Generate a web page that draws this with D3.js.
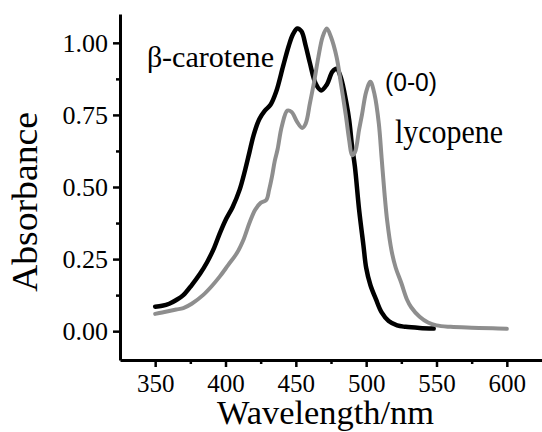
<!DOCTYPE html>
<html>
<head>
<meta charset="utf-8">
<script src="https://cdn.jsdelivr.net/npm/d3@7"></script>
<style>
  body { margin: 0; background: #fff; }
  svg { display: block; }
  .axis path, .axis line { stroke: #000; }
  .axis text { font-family: "Liberation Serif", "Times New Roman", serif; fill: #000; }
  .serif { font-family: "Liberation Serif", "Times New Roman", serif; }
</style>
</head>
<body>
<svg id="chart" width="542" height="432"></svg>
<script>
// beta-carotene absorption spectrum (wavelength nm, absorbance)
var caroteneWl = [350, 355, 360, 365, 370, 376, 382, 387, 392, 396, 400, 405, 410, 414, 417, 420, 424, 428, 432, 436, 441, 445, 448, 451, 454, 457, 460, 464, 468, 472, 476, 479, 482, 486, 488, 490, 492, 495, 498, 500, 503, 507, 511, 516, 522, 528, 538, 548]
var caroteneAbs = [0.085, 0.088, 0.095, 0.108, 0.125, 0.16, 0.20, 0.24, 0.29, 0.34, 0.385, 0.43, 0.49, 0.56, 0.62, 0.68, 0.735, 0.765, 0.785, 0.83, 0.92, 0.99, 1.03, 1.05, 1.04, 0.99, 0.93, 0.86, 0.835, 0.855, 0.90, 0.91, 0.88, 0.79, 0.73, 0.64, 0.57, 0.42, 0.30, 0.22, 0.16, 0.11, 0.065, 0.035, 0.02, 0.015, 0.011, 0.009]

// lycopene absorption spectrum
var lycopeneWl = [350, 355, 360, 365, 370, 376, 384, 390, 396, 402, 408, 413, 417, 421, 425, 429, 431, 433, 435, 437, 440, 444, 447, 451, 454.5, 457, 460, 463, 466, 469, 472, 475, 479, 482, 485.5, 488, 490, 492, 495, 497, 500, 503, 506, 509, 511, 513, 515, 518, 521, 525, 529, 532, 538, 544, 550, 560, 575, 590, 600]
var lycopeneAbs = [0.06, 0.065, 0.07, 0.075, 0.08, 0.095, 0.125, 0.155, 0.19, 0.23, 0.27, 0.32, 0.375, 0.42, 0.445, 0.455, 0.49, 0.535, 0.59, 0.63, 0.71, 0.765, 0.76, 0.725, 0.705, 0.72, 0.79, 0.865, 0.95, 1.02, 1.05, 1.02, 0.95, 0.86, 0.75, 0.66, 0.61, 0.62, 0.70, 0.75, 0.83, 0.865, 0.82, 0.72, 0.60, 0.48, 0.38, 0.28, 0.22, 0.167, 0.11, 0.083, 0.05, 0.03, 0.02, 0.015, 0.012, 0.01, 0.008]

var xTicks = [350, 400, 450, 500, 550, 600]
var xMinorTicks = [375, 425, 475, 525, 575]
var yTicks = [0, 0.25, 0.5, 0.75, 1.0]
var yMinorTicks = [0.125, 0.375, 0.625, 0.875]

var svg = d3.select('#chart')

var x = d3.scaleLinear().domain([325, 625]).range([120, 542])
var y = d3.scaleLinear().domain([-0.1, 1.1]).range([360, 14])

var line = d3.line()
    .x(function (d) { return x(d[0]) })
    .y(function (d) { return y(d[1]) })
    .curve(d3.curveCatmullRom.alpha(0.5))

// minor ticks first, so the major axes sit on top
svg.append('g')
    .attr('class', 'axis')
    .attr('transform', 'translate(0,360)')
    .call(d3.axisBottom(x).tickValues(xMinorTicks).tickSize(4).tickFormat(''))
    .call(function (g) { g.select('.domain').remove() })
    .selectAll('line').attr('stroke-width', 2.5)

svg.append('g')
    .attr('class', 'axis')
    .attr('transform', 'translate(120,0)')
    .call(d3.axisLeft(y).tickValues(yMinorTicks).tickSize(4).tickFormat(''))
    .call(function (g) { g.select('.domain').remove() })
    .selectAll('line').attr('stroke-width', 2.5)

var xAxis = svg.append('g')
    .attr('class', 'axis')
    .attr('transform', 'translate(0,360)')
    .call(d3.axisBottom(x).tickValues(xTicks).tickSize(7).tickSizeOuter(0).tickPadding(7))

xAxis.select('.domain').attr('stroke-width', 3)
xAxis.selectAll('.tick line').attr('stroke-width', 2.5)
xAxis.selectAll('.tick text').attr('font-size', 25)

var yAxis = svg.append('g')
    .attr('class', 'axis')
    .attr('transform', 'translate(120,0)')
    .call(d3.axisLeft(y).tickValues(yTicks).tickSize(7).tickSizeOuter(0).tickPadding(5)
      .tickFormat(d3.format('.2f')))

yAxis.select('.domain').attr('stroke-width', 3)
yAxis.selectAll('.tick line').attr('stroke-width', 2.5)
yAxis.selectAll('.tick text').attr('font-size', 26)

// spectra
svg.append('path')
    .datum(d3.zip(caroteneWl, caroteneAbs))
    .attr('fill', 'none')
    .attr('stroke', '#000')
    .attr('stroke-width', 4.5)
    .attr('stroke-linejoin', 'round')
    .attr('stroke-linecap', 'round')
    .attr('d', line)

svg.append('path')
    .datum(d3.zip(lycopeneWl, lycopeneAbs))
    .attr('fill', 'none')
    .attr('stroke', '#8e8e8e')
    .attr('stroke-width', 4)
    .attr('stroke-linejoin', 'round')
    .attr('stroke-linecap', 'round')
    .attr('d', line)

// labels
svg.append('text')
    .attr('class', 'serif')
    .attr('x', 147).attr('y', 67)
    .attr('font-size', 30)
    .text('β')

svg.append('text')
    .attr('class', 'serif')
    .attr('x', 162).attr('y', 67)
    .attr('font-size', 30)
    .attr('textLength', 112).attr('lengthAdjust', 'spacingAndGlyphs')
    .text('-carotene')

svg.append('text')
    .attr('x', 385).attr('y', 91)
    .attr('font-family', '"Liberation Sans", Arial, sans-serif').attr('font-size', 25)
    .attr('textLength', 52).attr('lengthAdjust', 'spacingAndGlyphs')
    .text('(0-0)')

svg.append('text')
    .attr('class', 'serif')
    .attr('x', 395).attr('y', 143)
    .attr('font-size', 33)
    .attr('textLength', 108).attr('lengthAdjust', 'spacingAndGlyphs')
    .text('lycopene')

svg.append('text')
    .attr('class', 'serif')
    .attr('transform', 'translate(37,202) rotate(-90)')
    .attr('text-anchor', 'middle')
    .attr('font-size', 36)
    .attr('textLength', 180).attr('lengthAdjust', 'spacingAndGlyphs')
    .text('Absorbance')

svg.append('text')
    .attr('class', 'serif')
    .attr('x', 325.5).attr('y', 424)
    .attr('text-anchor', 'middle')
    .attr('font-size', 33)
    .attr('textLength', 217).attr('lengthAdjust', 'spacingAndGlyphs')
    .text('Wavelength/nm')
</script>
</body>
</html>
